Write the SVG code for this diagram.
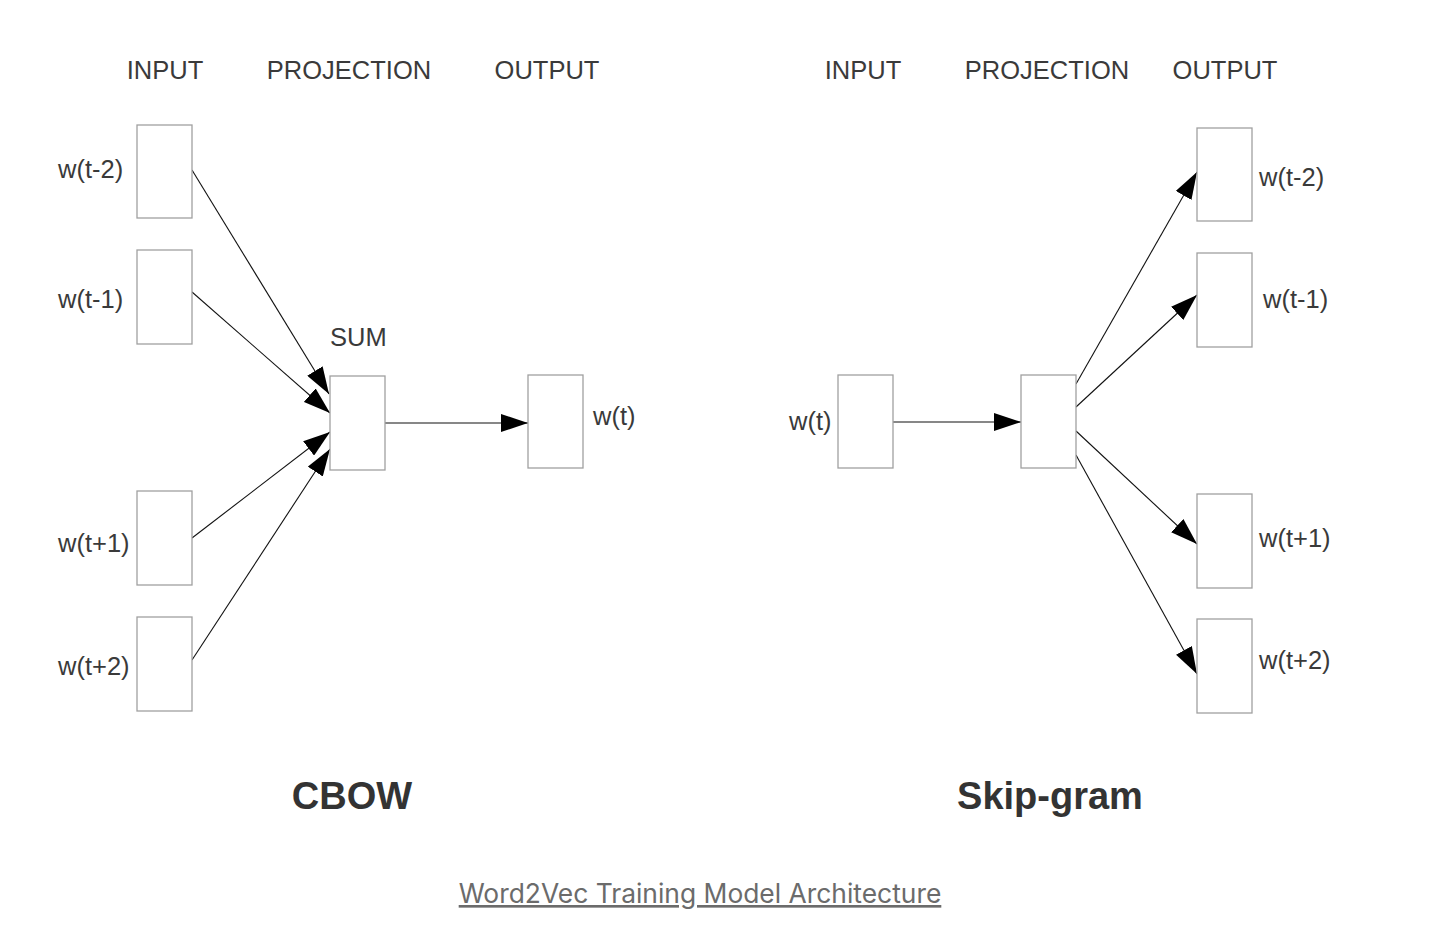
<svg xmlns="http://www.w3.org/2000/svg" width="1448" height="938" viewBox="0 0 1448 938">
<style>
.box{fill:#fff;stroke:#a0a0a0;stroke-width:1.3}
.lbl{font-family:"Liberation Sans",Arial,sans-serif;font-size:25.5px;fill:#3a3a3a}
.title{font-family:"Liberation Sans",Arial,sans-serif;font-size:38px;font-weight:bold;fill:#333}
.edge{stroke:#111;stroke-width:1.1;fill:none;marker-end:url(#ah)}
.cap{font-family:Inter,"Liberation Sans",sans-serif;font-size:26.4px;fill:#6b6b6b;text-decoration:underline}
</style>
<defs>
<marker id="ah" markerUnits="userSpaceOnUse" markerWidth="28" markerHeight="18" refX="27" refY="9" orient="auto">
<path d="M0,0 L27,9 L0,18 z" fill="#000"/>
</marker>
</defs>
<rect width="1448" height="938" fill="#fff"/>
<g id="headers">
<text class="lbl" x="165" y="79" text-anchor="middle">INPUT</text>
<text class="lbl" x="349" y="79" text-anchor="middle">PROJECTION</text>
<text class="lbl" x="547" y="79" text-anchor="middle">OUTPUT</text>
<text class="lbl" x="863" y="79" text-anchor="middle">INPUT</text>
<text class="lbl" x="1047" y="79" text-anchor="middle">PROJECTION</text>
<text class="lbl" x="1225" y="79" text-anchor="middle">OUTPUT</text>
</g>
<g id="connectors">
<line class="edge" x1="192" y1="170" x2="329" y2="394"/>
<line class="edge" x1="192" y1="292" x2="330" y2="413"/>
<line class="edge" x1="192" y1="538" x2="330" y2="432"/>
<line class="edge" x1="192" y1="660" x2="330" y2="449"/>
<line class="edge" x1="383" y1="423" x2="528" y2="423"/>
<line class="edge" x1="891" y1="422" x2="1021" y2="422"/>
<line class="edge" x1="1076" y1="384" x2="1197" y2="172"/>
<line class="edge" x1="1076" y1="407" x2="1197" y2="295"/>
<line class="edge" x1="1076" y1="431" x2="1197" y2="544"/>
<line class="edge" x1="1076" y1="455" x2="1197" y2="674"/>
</g>
<g id="cbow-in-t-2"><rect class="box" x="137" y="125" width="55" height="93"/><text class="lbl" x="58" y="178">w(t-2)</text></g>
<g id="cbow-in-t-1"><rect class="box" x="137" y="250" width="55" height="94"/><text class="lbl" x="58" y="308">w(t-1)</text></g>
<g id="cbow-in-t+1"><rect class="box" x="137" y="491" width="55" height="94"/><text class="lbl" x="58" y="552">w(t+1)</text></g>
<g id="cbow-in-t+2"><rect class="box" x="137" y="617" width="55" height="94"/><text class="lbl" x="58" y="675">w(t+2)</text></g>
<g id="cbow-sum"><rect class="box" x="330" y="376" width="55" height="94"/><text class="lbl" x="330" y="346">SUM</text></g>
<g id="cbow-out"><rect class="box" x="528" y="375" width="55" height="93"/><text class="lbl" x="593" y="425">w(t)</text></g>
<g id="sg-in"><rect class="box" x="838" y="375" width="55" height="93"/><text class="lbl" x="789" y="430">w(t)</text></g>
<g id="sg-proj"><rect class="box" x="1021" y="375" width="55" height="93"/></g>
<g id="sg-out-t-2"><rect class="box" x="1197" y="128" width="55" height="93"/><text class="lbl" x="1259" y="186">w(t-2)</text></g>
<g id="sg-out-t-1"><rect class="box" x="1197" y="253" width="55" height="94"/><text class="lbl" x="1263" y="308">w(t-1)</text></g>
<g id="sg-out-t+1"><rect class="box" x="1197" y="494" width="55" height="94"/><text class="lbl" x="1259" y="547">w(t+1)</text></g>
<g id="sg-out-t+2"><rect class="box" x="1197" y="619" width="55" height="94"/><text class="lbl" x="1259" y="669">w(t+2)</text></g>
<g id="titles">
<text class="title" x="352" y="809" text-anchor="middle">CBOW</text>
<text class="title" x="1050" y="809" text-anchor="middle">Skip-gram</text>
</g>
<text class="cap" x="700" y="903" text-anchor="middle">Word2Vec Training Model Architecture</text>
</svg>
